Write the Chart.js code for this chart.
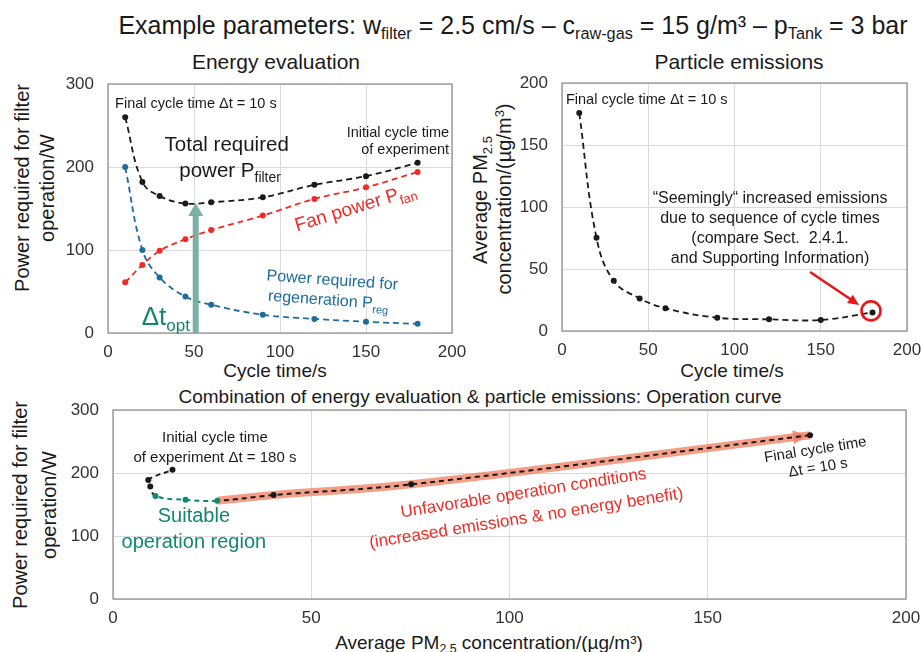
<!DOCTYPE html>
<html>
<head>
<meta charset="utf-8">
<script src="https://cdn.jsdelivr.net/npm/chart.js@4.4.0/dist/chart.umd.min.js"></script>
<style>
  body { margin: 0; width: 921px; height: 652px; background: #fff; position: relative; overflow: hidden;
         font-family: "Liberation Sans", Arial, sans-serif; color: #1a1a1a; }
  canvas { position: absolute; }
  .t { position: absolute; white-space: nowrap; line-height: 1; transform: translate(-50%, -50%); }
  .v { position: absolute; white-space: nowrap; line-height: 1; transform: translate(-50%, -50%) rotate(-90deg); }
  sub { font-size: 65%; vertical-align: -0.35em; line-height: 0; }
  sup { font-size: 65%; vertical-align: 0.55em; line-height: 0; }
</style>
</head>
<body>

<div class="t" style="left:513px;top:25px;font-size:25px">Example parameters: w<sub>filter</sub> = 2.5 cm/s – c<sub>raw-gas</sub> = 15 g/m³ – p<sub>Tank</sub> = 3 bar</div>
<div class="t" style="left:276px;top:61px;font-size:21px">Energy evaluation</div>
<div class="t" style="left:739px;top:61px;font-size:21px">Particle emissions</div>

<div class="v" style="left:22px;top:188px;font-size:20px">Power required for filter</div>
<div class="v" style="left:47px;top:188px;font-size:20px">operation/W</div>
<div class="t" style="left:275px;top:370px;font-size:19px">Cycle time/s</div>

<div class="v" style="left:480px;top:200px;font-size:20px">Average PM<sub>2.5</sub></div>
<div class="v" style="left:504px;top:199px;font-size:20px">concentration/(µg/m<sup>3</sup>)</div>
<div class="t" style="left:732px;top:370px;font-size:19px">Cycle time/s</div>

<div class="t" style="left:480px;top:396px;font-size:19px">Combination of energy evaluation &amp; particle emissions: Operation curve</div>
<div class="v" style="left:20px;top:505px;font-size:20px">Power required for filter</div>
<div class="v" style="left:49px;top:505px;font-size:20px">operation/W</div>
<div class="t" style="left:489px;top:642px;font-size:19px">Average PM<sub>2.5</sub> concentration/(µg/m³)</div>

<canvas id="energyChart" width="408" height="290" style="left:60px;top:74px"></canvas>
<canvas id="emissionChart" width="413" height="289" style="left:508px;top:73px"></canvas>
<canvas id="operationChart" width="861" height="230" style="left:60px;top:400px"></canvas>

<script>
// ===== data =====
const cycleTimes = [10, 20, 30, 45, 60, 90, 120, 150, 180];
const totalPower = [260, 182, 165, 156, 157.5, 163.5, 178.5, 189, 205];
const fanPower   = [61, 82, 99, 113, 124, 141.5, 161.5, 175.5, 194];
const regPower   = [200, 100, 67, 44, 34, 22, 17, 13.5, 11];
const pmConc     = [175.8, 75.2, 40.5, 26.3, 18.3, 10.7, 9.4, 8.9, 15];

const timeTicks  = [0, 50, 100, 150, 200];
const powerTicks = [0, 100, 200, 300];
const pmTicks    = [0, 50, 100, 150, 200];

const optCycleTime = 51;
const optPower = 156.5;
const suitableIdx = [3, 4, 5];          // 45 s, 60 s, 90 s
const unfavorableIdx = [0, 1, 2, 3];    // 10 s ... 45 s

const FONT = '"Liberation Sans", Arial, sans-serif';
const BLACK = "#1a1a1a";
const RED = "#ee2b24";
const BLUE = "#1d6c9c";
const GREEN = "#12876f";

// draw text with sub-parts: parts = [[text, size, dy], ...]
function drawRich(ctx, x, y, parts, align, angle, color) {
  ctx.save();
  ctx.translate(x, y);
  ctx.rotate((angle || 0) * Math.PI / 180);
  ctx.fillStyle = color;
  ctx.textBaseline = "alphabetic";
  ctx.textAlign = "left";
  let w = 0;
  parts.forEach(p => { ctx.font = p[1] + "px " + FONT; w += ctx.measureText(p[0]).width; });
  let cx = align === "center" ? -w / 2 : align === "right" ? -w : 0;
  parts.forEach(p => {
    ctx.font = p[1] + "px " + FONT;
    ctx.fillText(p[0], cx, p[2] || 0);
    cx += ctx.measureText(p[0]).width;
  });
  ctx.restore();
}

function px(chart, xv, yv) {
  return [chart.scales.x.getPixelForValue(xv), chart.scales.y.getPixelForValue(yv)];
}

const frame = {
  id: "frame",
  beforeDatasetsDraw(chart) {
    const a = chart.chartArea, ctx = chart.ctx;
    ctx.save();
    ctx.strokeStyle = "#8a8a8a";
    ctx.lineWidth = 1.2;
    ctx.strokeRect(a.left, a.top, a.right - a.left, a.bottom - a.top);
    ctx.restore();
  }
};

function axisOptions(xTicks, yTicks, yWidth, padRight) {
  const tickFont = { size: 17, family: FONT };
  return {
    responsive: false,
    animation: false,
    layout: { padding: { top: 10, right: padRight, left: 0, bottom: 0 } },
    plugins: { legend: { display: false }, tooltip: { enabled: false } },
    scales: {
      x: {
        type: "linear", min: xTicks[0], max: xTicks[xTicks.length - 1],
        afterBuildTicks: s => { s.ticks = xTicks.map(v => ({ value: v })); },
        ticks: { font: tickFont, color: "#333", padding: 9, maxRotation: 0 },
        grid: { color: "#dadada", drawTicks: false },
        border: { display: false },
        afterFit: s => { s.height = 31; s.paddingLeft = 0; s.paddingRight = 0; }
      },
      y: {
        type: "linear", min: yTicks[0], max: yTicks[yTicks.length - 1],
        afterBuildTicks: s => { s.ticks = yTicks.map(v => ({ value: v })); },
        ticks: { font: tickFont, color: "#333", padding: 14 },
        grid: { color: "#dadada", drawTicks: false },
        border: { display: false },
        afterFit: s => { s.width = yWidth; s.paddingTop = 0; s.paddingBottom = 0; }
      }
    }
  };
}

function dashedLine(values, color) {
  return {
    data: values,
    borderColor: color,
    backgroundColor: color,
    borderWidth: 1.8,
    borderDash: [6, 4],
    pointRadius: 3,
    pointBorderWidth: 0,
    tension: 0.4
  };
}

/* ===== ENERGY EVALUATION ===== */
const energyNotes = {
  id: "energyNotes",
  afterDatasetsDraw(chart) {
    const ctx = chart.ctx;
    // teal arrow at optimum
    const [ax, ay0] = px(chart, optCycleTime, 0);
    const ay1 = chart.scales.y.getPixelForValue(optPower);
    ctx.save();
    ctx.fillStyle = "rgba(110,170,155,0.9)";
    ctx.fillRect(ax - 3, ay1 + 12, 6, ay0 - ay1 - 12);
    ctx.beginPath();
    ctx.moveTo(ax, ay1);
    ctx.lineTo(ax - 7.5, ay1 + 13);
    ctx.lineTo(ax + 7.5, ay1 + 13);
    ctx.closePath();
    ctx.fill();
    ctx.restore();

    let p;
    p = px(chart, 4.1, 271);
    drawRich(ctx, p[0], p[1], [["Final cycle time \u0394t = 10 s", 14.5]], "left", 0, BLACK);
    p = px(chart, 69, 219);
    drawRich(ctx, p[0], p[1], [["Total required", 20.5]], "center", 0, BLACK);
    p = px(chart, 71, 188);
    drawRich(ctx, p[0], p[1], [["power P", 20.5], ["filter", 14, 5]], "center", 0, BLACK);
    p = px(chart, 198.3, 236);
    drawRich(ctx, p[0], p[1], [["Initial cycle time", 14.5]], "right", 0, BLACK);
    p = px(chart, 198.3, 215.5);
    drawRich(ctx, p[0], p[1], [["of experiment", 14.5]], "right", 0, BLACK);
    p = px(chart, 144.8, 151.8);
    drawRich(ctx, p[0], p[1] + 6, [["Fan power P", 19], ["fan", 13, 5]], "center", -17, RED);
    p = px(chart, 130.2, 63.9);
    drawRich(ctx, p[0], p[1] + 5, [["Power required for", 16]], "center", 4, BLUE);
    p = px(chart, 127.9, 39.8);
    drawRich(ctx, p[0], p[1] + 5, [["regeneration P", 16], ["reg", 11, 5]], "center", 4, BLUE);
    p = px(chart, 19.6, 9.6);
    drawRich(ctx, p[0], p[1], [["\u0394t", 26], ["opt", 17, 6]], "left", 0, GREEN);
  }
};

new Chart(document.getElementById("energyChart"), {
  type: "line",
  data: {
    labels: cycleTimes,
    datasets: [
      dashedLine(cycleTimes.map((t, i) => ({ x: t, y: regPower[i] })), BLUE),
      dashedLine(cycleTimes.map((t, i) => ({ x: t, y: fanPower[i] })), RED),
      dashedLine(cycleTimes.map((t, i) => ({ x: t, y: totalPower[i] })), BLACK)
    ]
  },
  options: axisOptions(timeTicks, powerTicks, 48, 16),
  plugins: [frame, energyNotes]
});

/* ===== PARTICLE EMISSIONS ===== */
const emissionNotes = {
  id: "emissionNotes",
  afterDatasetsDraw(chart) {
    const ctx = chart.ctx;
    let p = px(chart, 2.3, 183);
    drawRich(ctx, p[0], p[1], [["Final cycle time \u0394t = 10 s", 14.5]], "left", 0, BLACK);
    const lines = ["\u201cSeemingly\u201c increased emissions", "due to sequence of cycle times",
                   "(compare Sect.  2.4.1.", "and Supporting Information)"];
    const ys = [103.2, 87.1, 71, 54.8];
    lines.forEach((l, i) => {
      p = px(chart, 120.6, ys[i]);
      drawRich(ctx, p[0], p[1], [[l, 16]], "center", 0, BLACK);
    });
    // red arrow + circle round last point
    const a = px(chart, 143.8, 47.6), b = px(chart, 172.2, 21);
    const ang = Math.atan2(b[1] - a[1], b[0] - a[0]);
    ctx.save();
    ctx.strokeStyle = "#e8161b";
    ctx.fillStyle = "#e8161b";
    ctx.lineWidth = 2.6;
    ctx.beginPath();
    ctx.moveTo(a[0], a[1]);
    ctx.lineTo(b[0] - 8 * Math.cos(ang), b[1] - 8 * Math.sin(ang));
    ctx.stroke();
    ctx.beginPath();
    ctx.moveTo(b[0], b[1]);
    ctx.lineTo(b[0] - 11 * Math.cos(ang) + 5 * Math.sin(ang), b[1] - 11 * Math.sin(ang) - 5 * Math.cos(ang));
    ctx.lineTo(b[0] - 11 * Math.cos(ang) - 5 * Math.sin(ang), b[1] - 11 * Math.sin(ang) + 5 * Math.cos(ang));
    ctx.closePath();
    ctx.fill();
    const c = px(chart, cycleTimes[8], pmConc[8]);
    ctx.beginPath();
    ctx.arc(c[0] - 1.5, c[1] - 1.5, 9.5, 0, Math.PI * 2);
    ctx.stroke();
    ctx.restore();
  }
};

new Chart(document.getElementById("emissionChart"), {
  type: "line",
  data: {
    labels: cycleTimes,
    datasets: [dashedLine(cycleTimes.map((t, i) => ({ x: t, y: pmConc[i] })), BLACK)]
  },
  options: axisOptions(timeTicks, pmTicks, 54, 14),
  plugins: [frame, emissionNotes]
});

/* ===== OPERATION CURVE ===== */
const operationPoints = pmConc.map((c, i) => ({ x: c, y: totalPower[i] }));
const arrowPoints = unfavorableIdx.map(i => operationPoints[i]);

const operationNotes = {
  id: "operationNotes",
  beforeDatasetsDraw(chart) {
    // arrow head on the salmon band
    const ctx = chart.ctx;
    const tip = px(chart, arrowPoints[0].x, arrowPoints[0].y);
    const from = px(chart, arrowPoints[1].x, arrowPoints[1].y);
    const ang = Math.atan2(tip[1] - from[1], tip[0] - from[0]);
    const t = [tip[0] - 3 * Math.cos(ang), tip[1] - 3 * Math.sin(ang)];
    ctx.save();
    ctx.fillStyle = "rgba(240,125,95,0.8)";
    ctx.beginPath();
    ctx.moveTo(t[0], t[1]);
    ctx.lineTo(t[0] - 14 * Math.cos(ang) + 7 * Math.sin(ang), t[1] - 14 * Math.sin(ang) - 7 * Math.cos(ang));
    ctx.lineTo(t[0] - 14 * Math.cos(ang) - 7 * Math.sin(ang), t[1] - 14 * Math.sin(ang) + 7 * Math.cos(ang));
    ctx.closePath();
    ctx.fill();
    ctx.restore();
  },
  afterDatasetsDraw(chart) {
    const ctx = chart.ctx;
    let p;
    p = px(chart, 25.7, 249);
    drawRich(ctx, p[0], p[1], [["Initial cycle time", 15]], "center", 0, BLACK);
    p = px(chart, 25.7, 217.5);
    drawRich(ctx, p[0], p[1], [["of experiment \u0394t = 180 s", 15]], "center", 0, BLACK);
    p = px(chart, 20.4, 122);
    drawRich(ctx, p[0], p[1], [["Suitable", 20]], "center", 0, GREEN);
    p = px(chart, 20.4, 81);
    drawRich(ctx, p[0], p[1], [["operation region", 20]], "center", 0, GREEN);
    p = px(chart, 103.7, 169.8);
    drawRich(ctx, p[0], p[1] + 6, [["Unfavorable operation conditions", 17]], "center", -9, RED);
    p = px(chart, 104.4, 130);
    drawRich(ctx, p[0], p[1] + 6, [["(increased emissions & no energy benefit)", 17]], "center", -9, RED);
    p = px(chart, 177.3, 238);
    drawRich(ctx, p[0], p[1] + 5, [["Final cycle time", 15]], "center", -9, BLACK);
    p = px(chart, 178, 209.5);
    drawRich(ctx, p[0], p[1] + 5, [["\u0394t = 10 s", 15]], "center", -9, BLACK);
  }
};

const isSuitableSeg = ctx => suitableIdx.includes(ctx.p0DataIndex) && suitableIdx.includes(ctx.p1DataIndex);

new Chart(document.getElementById("operationChart"), {
  type: "scatter",
  data: {
    datasets: [
      {
        data: operationPoints,
        showLine: true,
        borderColor: BLACK,
        borderWidth: 2,
        borderDash: [5, 4],
        tension: 0.4,
        pointRadius: 3,
        pointBorderWidth: 0,
        pointBackgroundColor: operationPoints.map((_, i) => suitableIdx.includes(i) ? GREEN : BLACK),
        segment: { borderColor: ctx => isSuitableSeg(ctx) ? GREEN : BLACK },
        order: 1
      },
      {
        data: arrowPoints,
        showLine: true,
        borderColor: "rgba(240,125,95,0.75)",
        borderWidth: 8,
        tension: 0.4,
        pointRadius: 0,
        order: 2
      }
    ]
  },
  options: axisOptions(pmTicks, powerTicks, 53, 15),
  plugins: [frame, operationNotes]
});
</script>
</body>
</html>
